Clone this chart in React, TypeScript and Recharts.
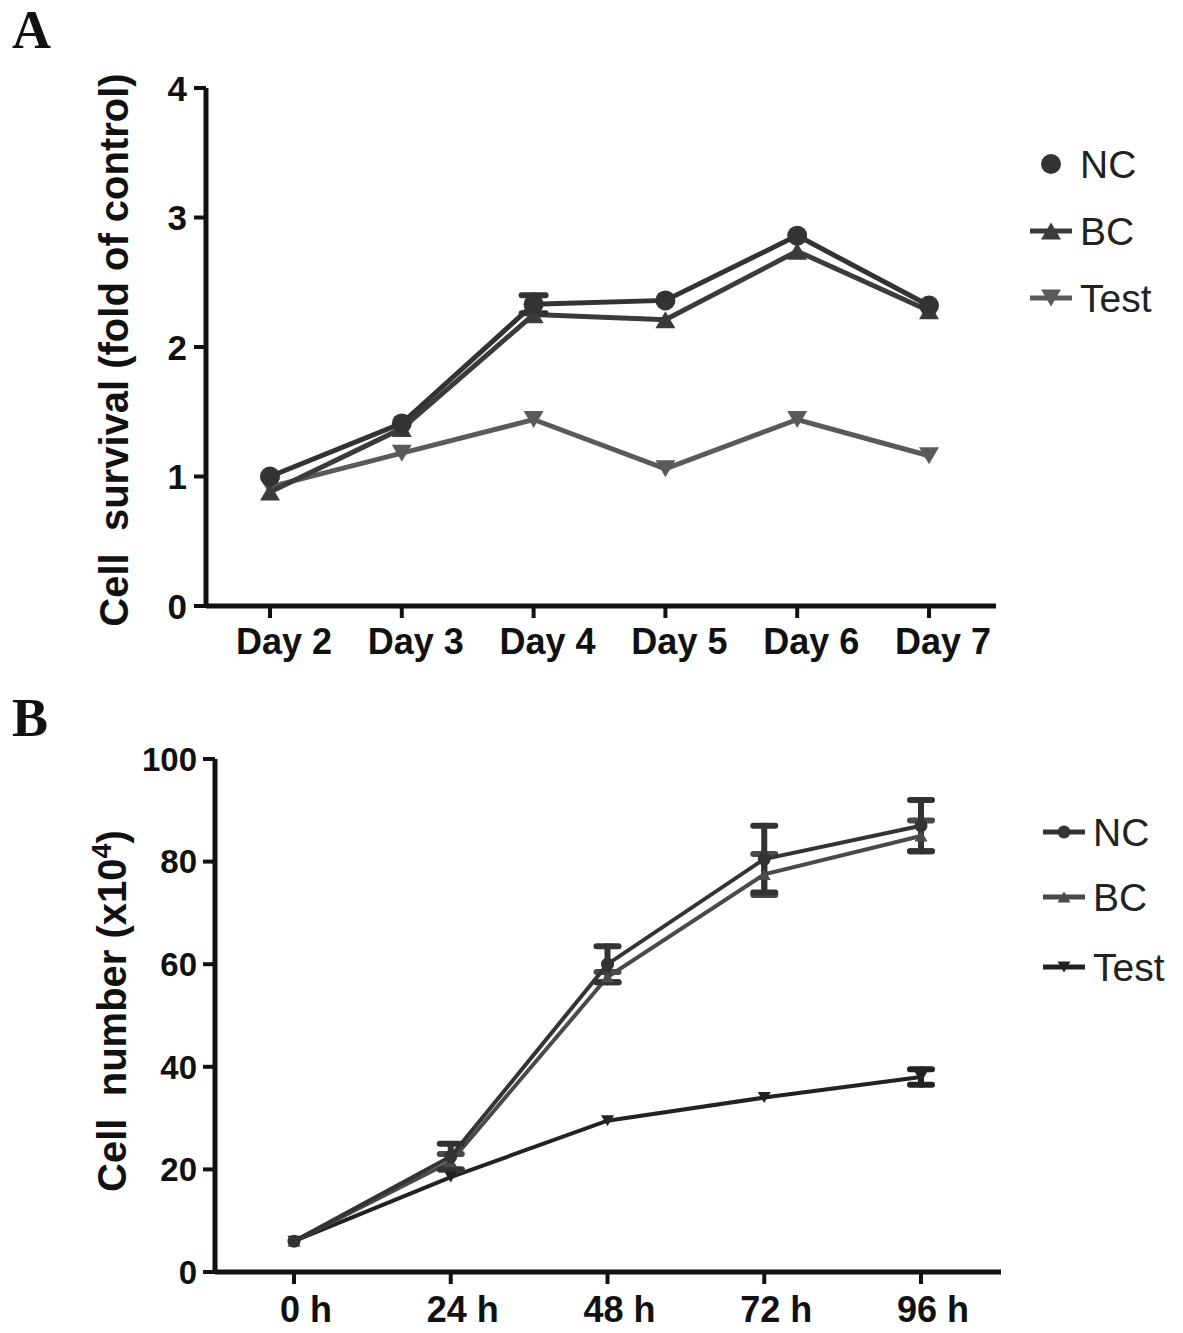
import React from "react";
import { LineChart, Line, XAxis, YAxis, ErrorBar } from "recharts";

// Panel A: cell survival, fold of control
const days = ["Day 2", "Day 3", "Day 4", "Day 5", "Day 6", "Day 7"];
const survivalNC = [1.0, 1.41, 2.33, 2.36, 2.86, 2.32];
const survivalBC = [0.88, 1.37, 2.25, 2.21, 2.74, 2.28];
const survivalTest = [0.92, 1.18, 1.44, 1.06, 1.44, 1.16];
const survivalNCErr = [null, null, 0.07, null, null, null];
const survivalTicks = [0, 1, 2, 3, 4];

// Panel B: cell number (x10^4)
const hours = ["0 h", "24 h", "48 h", "72 h", "96 h"];
const countNC = [6, 22.5, 60, 80.5, 87];
const countBC = [6, 21.5, 57.5, 77.5, 85];
const countTest = [6, 18.5, 29.5, 34, 38];
const countNCErr = [null, 2.5, 3.5, 6.5, 5];
const countBCErr = [null, 1.5, 1, 4, 3];
const countTestErr = [null, null, null, null, 1.5];
const countTicks = [0, 20, 40, 60, 80, 100];

const seriesNames = ["NC", "BC", "Test"];

const FONT = "'Liberation Sans', Arial, Helvetica, sans-serif";
const W = 1183;

type Shape = "circle" | "up" | "down";

function Marker({ cx, cy, shape, size, fill }: { cx?: number; cy?: number; shape: Shape; size: number; fill: string }) {
  if (cx == null || cy == null) return null;
  if (shape === "circle") return <circle cx={cx} cy={cy} r={size / 2} fill={fill} />;
  const w = size;
  const h = size * 0.85;
  const pts =
    shape === "up"
      ? `${cx - w / 2},${cy + h / 2} ${cx + w / 2},${cy + h / 2} ${cx},${cy - h / 2}`
      : `${cx - w / 2},${cy - h / 2} ${cx + w / 2},${cy - h / 2} ${cx},${cy + h / 2}`;
  return <polygon points={pts} fill={fill} />;
}

const dotOf = (shape: Shape, size: number, fill: string) => (p: any) => (
  <Marker key={`${shape}-${p.index}`} cx={p.cx} cy={p.cy} shape={shape} size={size} fill={fill} />
);

function XTick({ x, y, payload, dx, baseline }: any) {
  return (
    <text x={x + dx} y={y + baseline} textAnchor="middle" fontFamily={FONT} fontWeight="bold" fontSize={36} fill="#111">
      {payload.value}
    </text>
  );
}

function YTick({ x, y, payload, fs, gap }: any) {
  return (
    <text x={x - gap} y={y + fs * 0.36} textAnchor="end" fontFamily={FONT} fontWeight="bold" fontSize={fs} fill="#111">
      {payload.value}
    </text>
  );
}

const surveyData = days.map((d, i) => ({
  day: d,
  nc: survivalNC[i],
  bc: survivalBC[i],
  test: survivalTest[i],
  ncErr: survivalNCErr[i],
}));

const countData = hours.map((h, i) => ({
  hour: h,
  nc: countNC[i],
  bc: countBC[i],
  test: countTest[i],
  ncErr: countNCErr[i],
  bcErr: countBCErr[i],
  testErr: countTestErr[i],
}));

const colorsA = ["#333333", "#3b3b3b", "#5a5a5a"];
const colorsB = ["#333333", "#4a4a4a", "#222222"];
const shapes: Shape[] = ["circle", "up", "down"];

function LegendBlock({ x, ys, colors, lineFor, size, textX }: any) {
  return (
    <g>
      {seriesNames.map((name, i) => (
        <g key={name}>
          {lineFor[i] && <line x1={x - 21} x2={x + 21} y1={ys[i]} y2={ys[i]} stroke={colors[i]} strokeWidth={5} />}
          <Marker cx={x} cy={ys[i]} shape={shapes[i]} size={size} fill={colors[i]} />
          <text x={textX} y={ys[i] + 14} fontFamily={FONT} fontSize={39} fill="#222">
            {name}
          </text>
        </g>
      ))}
    </g>
  );
}

export default function App() {
  return (
    <div style={{ position: "absolute", left: 0, top: 0, width: W, height: 1333, background: "#fff" }}>
      <div style={{ position: "absolute", left: 0, top: 0 }}>
        <LineChart width={W} height={680} data={surveyData} margin={{ top: 88, right: 187, bottom: 14, left: 0 }}>
          <XAxis
            dataKey="day"
            height={60}
            padding={{ left: 64, right: 67 }}
            axisLine={{ stroke: "#111", strokeWidth: 5 }}
            tickLine={{ stroke: "#111", strokeWidth: 4 }}
            tickSize={12}
            tick={<XTick dx={14} baseline={34} />}
          />
          <YAxis
            width={206}
            domain={[0, 4]}
            ticks={survivalTicks}
            interval={0}
            axisLine={{ stroke: "#111", strokeWidth: 5 }}
            tickLine={{ stroke: "#111", strokeWidth: 4 }}
            tickSize={12}
            tick={<YTick fs={35} gap={5} />}
            label={{
              content: () => (
                <text
                  transform="translate(128,350) rotate(-90)"
                  textAnchor="middle"
                  fontFamily={FONT}
                  fontWeight="bold"
                  fontSize={40}
                  fill="#111"
                  style={{ whiteSpace: "pre" }}
                >
                  {"Cell  survival (fold of control)"}
                </text>
              ),
            }}
          />
          <Line dataKey="test" stroke={colorsA[2]} strokeWidth={5} dot={dotOf("down", 20, colorsA[2])} isAnimationActive={false} />
          <Line dataKey="bc" stroke={colorsA[1]} strokeWidth={5} dot={dotOf("up", 20, colorsA[1])} isAnimationActive={false} />
          <Line dataKey="nc" stroke={colorsA[0]} strokeWidth={5} dot={dotOf("circle", 20, colorsA[0])} isAnimationActive={false}>
            <ErrorBar dataKey="ncErr" width={12} stroke={colorsA[0]} strokeWidth={6} strokeLinecap="round" direction="y" />
          </Line>
        </LineChart>
      </div>

      <div style={{ position: "absolute", left: 0, top: 680 }}>
        <LineChart width={W} height={653} data={countData} margin={{ top: 79, right: 182, bottom: 1, left: 0 }}>
          <XAxis
            dataKey="hour"
            height={60}
            padding={{ left: 79, right: 80 }}
            axisLine={{ stroke: "#111", strokeWidth: 5 }}
            tickLine={{ stroke: "#111", strokeWidth: 4 }}
            tickSize={12}
            tick={<XTick dx={12} baseline={36} />}
          />
          <YAxis
            width={215}
            domain={[0, 100]}
            ticks={countTicks}
            interval={0}
            axisLine={{ stroke: "#111", strokeWidth: 5 }}
            tickLine={{ stroke: "#111", strokeWidth: 4 }}
            tickSize={12}
            tick={<YTick fs={33} gap={4} />}
            label={{
              content: () => (
                <text
                  transform="translate(126,331) rotate(-90)"
                  textAnchor="middle"
                  fontFamily={FONT}
                  fontWeight="bold"
                  fontSize={40}
                  fill="#111"
                  style={{ whiteSpace: "pre" }}
                >
                  {"Cell  number (x10"}
                  <tspan dy={-15} fontSize={27}>4</tspan>
                  <tspan dy={15}>)</tspan>
                </text>
              ),
            }}
          />
          <Line dataKey="test" stroke={colorsB[2]} strokeWidth={4} dot={dotOf("down", 13, colorsB[2])} isAnimationActive={false}>
            <ErrorBar dataKey="testErr" width={11} stroke={colorsB[2]} strokeWidth={6} strokeLinecap="round" direction="y" />
          </Line>
          <Line dataKey="bc" stroke={colorsB[1]} strokeWidth={4} dot={dotOf("up", 13, colorsB[1])} isAnimationActive={false}>
            <ErrorBar dataKey="bcErr" width={11} stroke={colorsB[1]} strokeWidth={6} strokeLinecap="round" direction="y" />
          </Line>
          <Line dataKey="nc" stroke={colorsB[0]} strokeWidth={4} dot={dotOf("circle", 13, colorsB[0])} isAnimationActive={false}>
            <ErrorBar dataKey="ncErr" width={11} stroke={colorsB[0]} strokeWidth={6} strokeLinecap="round" direction="y" />
          </Line>
        </LineChart>
      </div>

      <svg width={W} height={1333} style={{ position: "absolute", left: 0, top: 0, pointerEvents: "none" }}>
        <text x={12} y={48} fontFamily="'Liberation Serif', 'Times New Roman', serif" fontWeight="bold" fontSize={54} fill="#111">
          A
        </text>
        <text x={12} y={736} fontFamily="'Liberation Serif', 'Times New Roman', serif" fontWeight="bold" fontSize={54} fill="#111">
          B
        </text>
        <LegendBlock x={1051} ys={[164, 231, 298]} colors={colorsA} lineFor={[false, true, true]} size={20} textX={1080} />
        <LegendBlock x={1064} ys={[832, 897, 967]} colors={colorsB} lineFor={[true, true, true]} size={13} textX={1093} />
      </svg>
    </div>
  );
}
